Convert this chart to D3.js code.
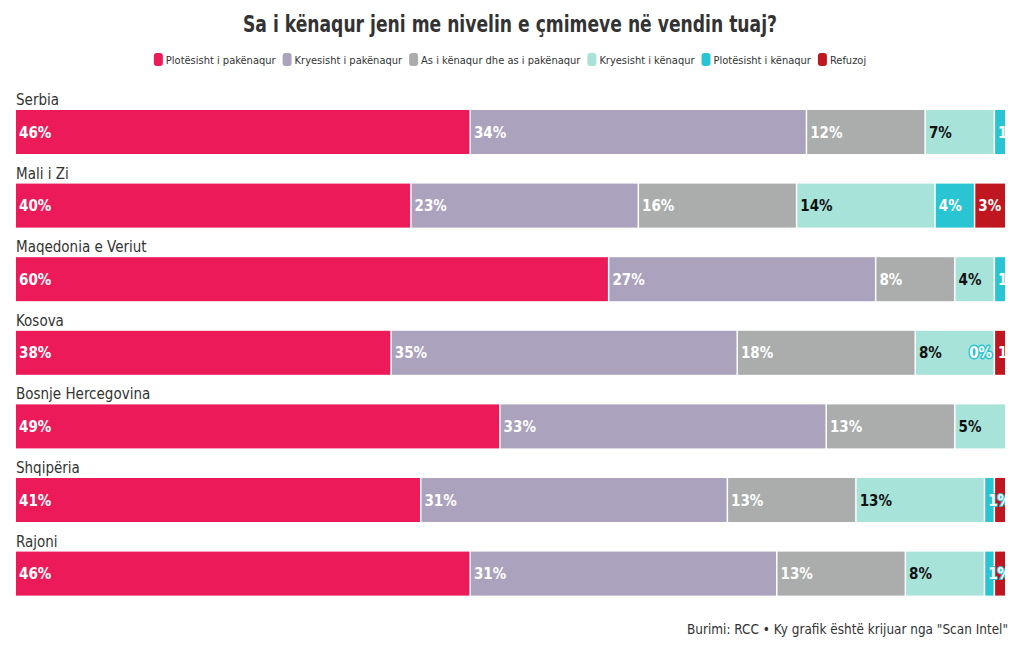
<!DOCTYPE html>
<html><head><meta charset="utf-8">
<script src="https://cdn.jsdelivr.net/npm/d3@7"></script>
<style>
body{margin:0;background:#fff;}
svg{display:block;}
text{font-family:"DejaVu Sans Condensed","Liberation Sans Narrow","Roboto",sans-serif;}
</style></head>
<body><svg id="c" width="1020" height="650"></svg>
<script>
const categories = ["Serbia","Mali i Zi","Maqedonia e Veriut","Kosova","Bosnje Hercegovina","Shqipëria","Rajoni"];
const seriesNames = ["Plotësisht i pakënaqur","Kryesisht i pakënaqur","As i kënaqur dhe as i pakënaqur","Kryesisht i kënaqur","Plotësisht i kënaqur","Refuzoj"];
const plotPak = [46,40,60,38,49,41,46];
const kryPak = [34,23,27,35,33,31,31];
const asAs = [12,16,8,18,13,13,13];
const kryKen = [7,14,4,8,5,13,8];
const plotKen = [1,4,1,0,0,1,1];
const refuzoj = [0,3,0,1,0,1,1];
const showLabel = [[1,1,1,1,1,0],[1,1,1,1,1,1],[1,1,1,1,1,0],[1,1,1,1,1,1],[1,1,1,1,0,0],[1,1,1,1,1,0],[1,1,1,1,1,0]];
const colors = ["#EC1A58","#ABA2BD","#AAADAB","#A8E3DA","#2AC5D2","#C0161F"];
const labelColors = ["#fff","#fff","#fff","#111","#fff","#fff"];
const title = "Sa i kënaqur jeni me nivelin e çmimeve në vendin tuaj?";
const footer = "Burimi: RCC • Ky grafik është krijuar nga \"Scan Intel\"";

const allSeries = [plotPak,kryPak,asAs,kryKen,plotKen,refuzoj];
const rows = categories.map((c,i)=>{const o={cat:c,idx:i}; seriesNames.forEach((s,j)=>o[s]=allSeries[j][i]); return o;});
const stack = d3.stack().keys(seriesNames)(rows);

const svg = d3.select("#c");
const x = d3.scaleLinear().domain([0,100]).range([16,1005]);
const y = d3.scaleBand().domain(categories).range([80,80+7*73.6]);
const barOff = 30, barH = 44;

svg.append("text").attr("x",510).attr("y",32).attr("text-anchor","middle")
  .attr("font-size",23).attr("font-weight","bold").attr("fill","#333")
  .attr("textLength",534).attr("lengthAdjust","spacingAndGlyphs").text(title);

// legend
const lg = svg.append("g");
let lx = 0;
seriesNames.forEach((s,j)=>{
  const g = lg.append("g").attr("transform",`translate(${lx},0)`);
  g.append("rect").attr("x",0).attr("y",-7).attr("width",9).attr("height",13).attr("rx",3).attr("fill",colors[j]);
  const t = g.append("text").attr("x",12).attr("y",4).attr("font-size",11).attr("fill","#333").text(s);
  lx += 12 + t.node().getComputedTextLength() + 7;
});
lg.attr("transform",`translate(${510-(lx-7)/2},60)`);

// category labels
svg.append("g").selectAll("text").data(categories).join("text")
  .attr("x",16).attr("y",d=>y(d)+25).attr("font-size",15).attr("fill","#333").text(d=>d);

svg.append("clipPath").attr("id","clipc").append("rect")
  .attr("x",0).attr("y",0).attr("width",x(100)).attr("height",650);

const layers = svg.append("g").selectAll("g").data(stack).join("g")
  .attr("fill",(d,j)=>colors[j]);
layers.selectAll("rect").data(d=>d).join("rect")
  .attr("x",d=>x(d[0])).attr("y",d=>y(d.data.cat)+barOff)
  .attr("width",d=>Math.max(0,x(d[1])-x(d[0])-(d[1]<100?1.5:0))).attr("height",barH);

// labels
const lab = svg.append("g").attr("clip-path","url(#clipc)");
stack.forEach((layer,j)=>{
  layer.forEach(d=>{
    const i = d.data.idx;
    if(!showLabel[i][j]) return;
    const v = d[1]-d[0];
    const zero = v===0;
    lab.append("text")
      .attr("x", zero ? x(d[0])-3 : x(d[0])+3)
      .attr("y", y(d.data.cat)+barOff+barH/2+5.5)
      .attr("text-anchor", zero ? "end":"start")
      .attr("font-size",15).attr("font-weight","bold")
      .attr("fill", zero ? "#fff" : labelColors[j])
      .attr("stroke", colors[j]).attr("stroke-width",zero?3:2).attr("paint-order","stroke")
      .attr("stroke-linejoin","round")
      .text(v+"%");
  });
});

svg.append("text").attr("x",1008).attr("y",634).attr("text-anchor","end")
  .attr("font-size",14).attr("fill","#333")
  .attr("textLength",321).attr("lengthAdjust","spacingAndGlyphs").text(footer);
</script></body></html>
